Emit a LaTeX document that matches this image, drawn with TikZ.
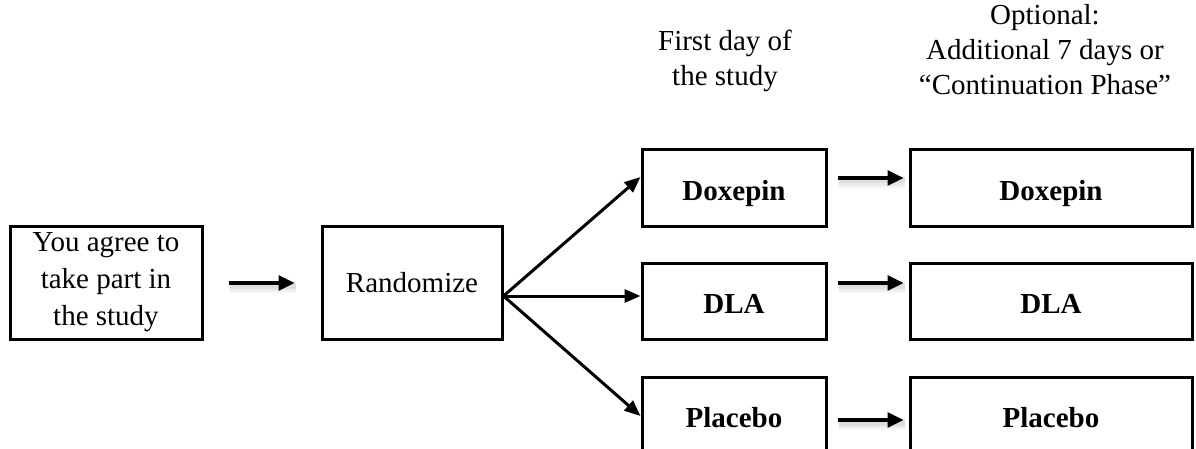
\documentclass[tikz,border=0pt]{standalone}
\usepackage{fontspec}
\setmainfont{Liberation Serif}
\usetikzlibrary{arrows.meta,calc}
\begin{document}
\begin{tikzpicture}[x=1pt,y=-1pt,
  box/.style={draw, line width=3pt, rectangle, inner sep=0pt, align=center,
    font=\fontsize{29}{37}\selectfont},
  bbox/.style={box, font=\fontsize{29}{37}\selectfont\bfseries, text height=25pt, text depth=0pt},
  hdr/.style={align=center, inner sep=0pt, font=\fontsize{29}{35}\selectfont},
  tip/.style={-{Triangle[length=16pt,width=15pt]}},
  fanarrow/.style={line width=3pt, -{Triangle[length=16pt,width=13pt]}},
  sharrow/.style={line width=3.2pt, tip,
    preaction={draw=black, opacity=0.035, line width=12pt, -, transform canvas={shift={(1pt,-4pt)}}},
    preaction={draw=black, opacity=0.045, line width=8pt, -, transform canvas={shift={(1pt,-4pt)}}},
    preaction={draw=black, opacity=0.06, line width=5pt, -, transform canvas={shift={(1pt,-3pt)}}}}
]
\useasboundingbox (0,0) rectangle (1196,449);
\fill[white] (0,0) rectangle (1196,449);

% headers
\node[hdr] (h1) at (725,61) {First day of\\the study};
\node[hdr] (h2) at (1045,50) {Optional:\\Additional 7 days or\\“Continuation Phase”};

% boxes
\node[box, minimum width=192pt, minimum height=113pt] (agree) at (106,282.5) {You agree to\\take part in\\the study};
\node[box, minimum width=180pt, minimum height=113pt] (rand) at (412,282.5) {Randomize};

\node[bbox, minimum width=184pt, minimum height=76pt] (d1) at (734,188) {Doxepin};
\node[bbox, minimum width=184pt, minimum height=76pt] (l1) at (734,301) {DLA};
\node[bbox, minimum width=184pt, minimum height=76pt] (p1) at (734,415) {Placebo};

\node[bbox, minimum width=282pt, minimum height=76pt] (d2) at (1051,188) {Doxepin};
\node[bbox, minimum width=282pt, minimum height=76pt] (l2) at (1051,301) {DLA};
\node[bbox, minimum width=282pt, minimum height=76pt] (p2) at (1051,415) {Placebo};

% connectors
\draw[sharrow] ($(agree.east)+(25,0.5)$) -- ($(rand.west)+(-26,0.5)$);

\coordinate (fan) at ($(rand.east)+(0,13.5)$);
\draw[fanarrow] (fan) -- ($(d1.west)+(0,-11)$);
\draw[fanarrow] (fan) -- ($(l1.west)+(0,-5)$);
\draw[fanarrow] (fan) -- ($(p1.west)+(0,1)$);

\draw[sharrow] ($(d1.east)+(10,-10)$) -- ($(d2.west)+(-5,-10)$);
\draw[sharrow] ($(l1.east)+(10,-18)$) -- ($(l2.west)+(-5,-18)$);
\draw[sharrow] ($(p1.east)+(10,5)$) -- ($(p2.west)+(-5,5)$);
\end{tikzpicture}
\end{document}
